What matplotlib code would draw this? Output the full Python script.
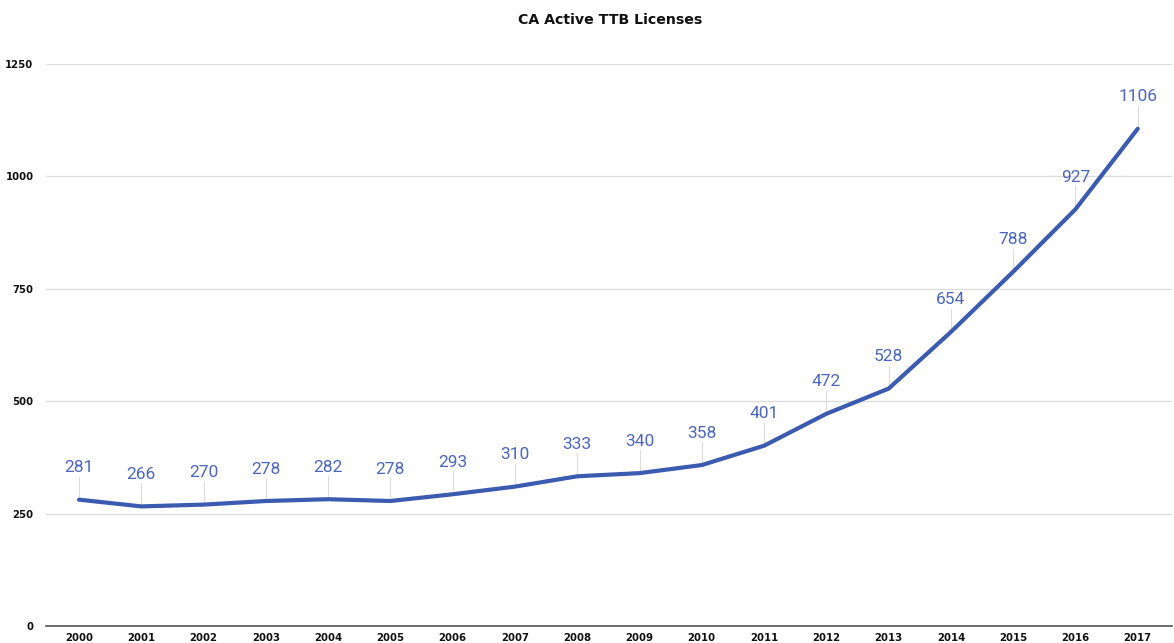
import matplotlib
matplotlib.use("Agg")
import matplotlib.pyplot as plt

years = [str(y) for y in range(2000, 2018)]
licenses = [281, 266, 270, 278, 282, 278, 293, 310, 333, 340, 358, 401, 472, 528, 654, 788, 927, 1106]
yticks = [0, 250, 500, 750, 1000, 1250]

W, H = 1174, 643
fig = plt.figure(figsize=(W / 100, H / 100), dpi=100)
ax = fig.add_axes([46 / W, 1 - 626 / H, (1172 - 46) / W, (626 - 64) / H])

x = list(range(len(years)))
ax.plot(x, licenses, color="#3a5bb0", lw=3.0, solid_capstyle="round", zorder=3)

px_per_unit = (626 - 64) / 1250
for xi, v in zip(x, licenses):
    off = 32 / px_per_unit
    ax.plot([xi, xi], [v + 2, v + off - 9 / px_per_unit], color="#dcdcdc", lw=0.8, zorder=2)
    ax.text(xi, v + off, str(v), ha="center", va="center", fontsize=12.5,
            color="#4a66c2", family="Roboto", zorder=4)

ax.set_xlim(-0.53, len(years) - 1 + 0.55)
ax.set_ylim(0, 1250)
ax.set_xticks(x)
ax.set_xticklabels(years)
ax.set_yticks(yticks)
ax.set_yticklabels([str(t) for t in yticks])
ax.tick_params(axis="both", length=0, labelsize=7.3, colors="#111111")
for lab in ax.get_xticklabels() + ax.get_yticklabels():
    lab.set_fontweight("bold")
ax.tick_params(axis="x", pad=5)
ax.tick_params(axis="y", pad=9)

ax.grid(axis="y", color="#dddddd", lw=1)
ax.set_axisbelow(True)
for s in ["top", "right", "left"]:
    ax.spines[s].set_visible(False)
ax.spines["bottom"].set_color("#555555")
ax.spines["bottom"].set_linewidth(1.2)
ax.spines["bottom"].set_zorder(5)

fig.text(610 / W, 1 - 20 / H, "CA Active TTB Licenses", ha="center", va="center",
         fontsize=10.2, fontweight="bold", color="#111111")

fig.savefig("out.png", dpi=100, facecolor="white")
